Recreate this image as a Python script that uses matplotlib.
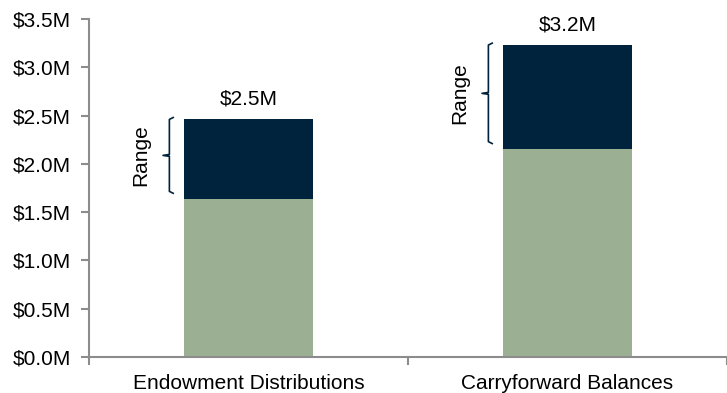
import numpy as np
import matplotlib
matplotlib.use("Agg")
import matplotlib.pyplot as plt

plt.rcParams["font.family"] = ["Liberation Sans", "DejaVu Sans"]

# data (in $M)
categories = ["Endowment Distributions", "Carryforward Balances"]
base_vals = [1.635, 2.15]
top_vals = [2.46, 3.23]
total_labels = ["$2.5M", "$3.2M"]
y_ticks = [0.0, 0.5, 1.0, 1.5, 2.0, 2.5, 3.0, 3.5]

green = "#9BAF93"
navy = "#00233D"
axis_grey = "#8C8C8C"
fs = 15

fig = plt.figure(figsize=(7.27, 3.93), dpi=100)
ax = fig.add_axes([0.1224, 0.0916, 0.8776, 0.8601])

x = np.arange(len(categories))
width = 0.405
range_vals = [t - b for t, b in zip(top_vals, base_vals)]
ax.bar(x, base_vals, width=width, color=green)
ax.bar(x, range_vals, width=width, bottom=base_vals, color=navy)

# total labels above bars
for xi, t, lab in zip(x, top_vals, total_labels):
    ax.text(xi, t + 0.21, lab, ha="center", va="center", fontsize=fs)

# "Range" braces left of each bar
for xi, b, t in zip(x, base_vals, top_vals):
    lo, hi = b + 0.06, t + 0.02
    mid = (lo + hi) / 2
    bx = xi - 0.248
    hook = 0.012
    ax.plot([bx + hook, bx, bx, bx - 0.02, bx, bx, bx + hook],
            [hi, hi - 0.02, mid + 0.01, mid, mid - 0.01, lo + 0.02, lo],
            color=navy, lw=1.2, solid_joinstyle="round", clip_on=False)
    ax.text(bx - 0.09, mid, "Range", rotation=90, ha="center", va="center",
            fontsize=fs)

ax.set_xlim(-0.5, 1.5)
ax.set_ylim(0, 3.5)
ax.set_yticks(y_ticks)
ax.set_yticklabels([f"${v:.1f}M" for v in y_ticks], fontsize=fs)
ax.set_xticks(x)
ax.set_xticklabels(categories, fontsize=fs)
ax.tick_params(axis="x", length=0, pad=12)
ax.set_xticks([-0.5, 0.5, 1.5], minor=True)
ax.tick_params(axis="x", which="minor", length=6, color=axis_grey, width=1.5)
ax.tick_params(axis="y", length=6, color=axis_grey, width=1.5, pad=7)

for s in ["top", "right"]:
    ax.spines[s].set_visible(False)
for s in ["left", "bottom"]:
    ax.spines[s].set_color(axis_grey)
    ax.spines[s].set_linewidth(1.5)

fig.savefig("out.png", dpi=100)
